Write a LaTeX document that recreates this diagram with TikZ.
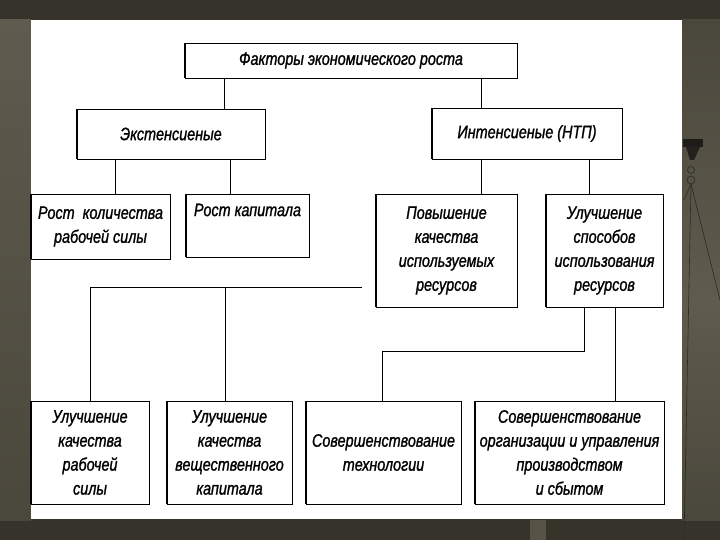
\documentclass[tikz,border=0pt]{standalone}
\usepackage{fontspec}
\newfontfamily\rf[FakeStretch=0.8,FakeBold=1.2]{Liberation Sans}
\definecolor{bgdark}{HTML}{36332B}
\definecolor{bgmid}{HTML}{4A473C}
\definecolor{bglight}{HTML}{5F5B4E}
\begin{document}
\begin{tikzpicture}[x=1pt,y=-1pt,
  box/.style={draw=black, line width=0.8pt, fill=white, inner sep=0pt,
    align=center, font=\rf\itshape\fontsize{18}{24}\selectfont},
  conn/.style={draw=black, line width=0.9pt},
  side/.style={line width=1.8pt, black}]
\useasboundingbox (0,0) rectangle (720,540);
% background
\fill[bgdark] (0,0) rectangle (720,540);
\shade[top color=bglight, bottom color=bgmid] (0,20) rectangle (31,520);
\shade[top color=bgmid, bottom color=bglight] (682,20) rectangle (720,300);
\shade[top color=bglight, bottom color=bgmid] (682,300) rectangle (720,520);
\fill[bglight!80!bgdark] (530,520) rectangle (546,540);
% lamp
\fill[black!45!bgdark] (683,139) rectangle (703,147);
\fill[black!35!bgdark] (686,147) -- (700,147) -- (694,160) -- (690,160) -- cycle;
\draw[black!40!bgmid, line width=0.6pt] (691,170) circle (3.5);
\draw[black!40!bgmid, line width=0.6pt] (691,180) circle (4);
\draw[black!40!bgmid, line width=0.6pt] (691,184) -- (684,540);
\draw[black!40!bgmid, line width=0.6pt] (691,184) -- (720,300);
\draw[black!40!bgmid, line width=0.6pt] (691,184) -- (684,200);
% paper
\fill[white] (31,20) rectangle (682,519);

% boxes
\node[box, minimum width=332, minimum height=35] (f) at (351,60.5) {Факторы экономического роста};
\node[box, minimum width=188, minimum height=50] (ext) at (171,134) {Экстенсиеные};
\node[box, minimum width=190, minimum height=51] (int) at (527,133.5) {Интенсиеные (НТП)};
\node[box, minimum width=139, minimum height=65] (b4) at (100.5,226.5) {Рост~ количества\\рабочей силы};
\node[box, minimum width=123, minimum height=63] (b5) at (247.5,225.5) {Рост капитала\\\strut};
\node[box, minimum width=141, minimum height=113] (b6) at (446.5,250.5) {Повышение\\качества\\используемых\\ресурсов};
\node[box, minimum width=117, minimum height=113] (b7) at (604.5,250.5) {Улучшение\\способов\\использования\\ресурсов};
\node[box, minimum width=118, minimum height=103] (b8) at (90,452.5) {Улучшение\\качества\\рабочей\\силы};
\node[box, minimum width=125, minimum height=103] (b9) at (229.5,452.5) {Улучшение\\качества\\вещественного\\капитала};
\node[box, minimum width=155, minimum height=103] (b10) at (383.5,452.5) {Совершенствование\\технологии};
\node[box, minimum width=189, minimum height=103] (b11) at (569.5,452.5) {Совершенствование\\организации и управления\\производством\\и сбытом};

% thicker vertical sides
\foreach \n in {f,ext,int,b4,b5,b6,b7,b8,b9,b10,b11}
  \draw[side] (\n.north west) -- (\n.south west) (\n.north east) -- (\n.south east);

% connector guide coordinates
\coordinate (xa) at (224,0);
\coordinate (xb) at (481,0);
\coordinate (xc) at (115,0);
\coordinate (xd) at (230,0);
\coordinate (xe) at (589,0);
\coordinate (busL) at (90,287);
\coordinate (busM) at (225,287);
\coordinate (busR) at (362,287);
\coordinate (xf) at (584,0);
\coordinate (jog) at (382,351);
\coordinate (xg) at (615,0);

% connectors
\draw[conn] (f.south -| xa) -- (ext.north -| xa);
\draw[conn] (f.south -| xb) -- (int.north -| xb);
\draw[conn] (ext.south -| xc) -- (b4.north -| xc);
\draw[conn] (ext.south -| xd) -- (b5.north -| xd);
\draw[conn] (int.south -| xb) -- (b6.north -| xb);
\draw[conn] (int.south -| xe) -- (b7.north -| xe);
\draw[conn] (busR) -- (busL) -- (b8.north -| busL);
\draw[conn] (busM) -- (b9.north -| busM);
\draw[conn] (b7.south -| xf) -- (xf |- jog) -- (jog) -- (b10.north -| jog);
\draw[conn] (b7.south -| xg) -- (b11.north -| xg);
\end{tikzpicture}
\end{document}
